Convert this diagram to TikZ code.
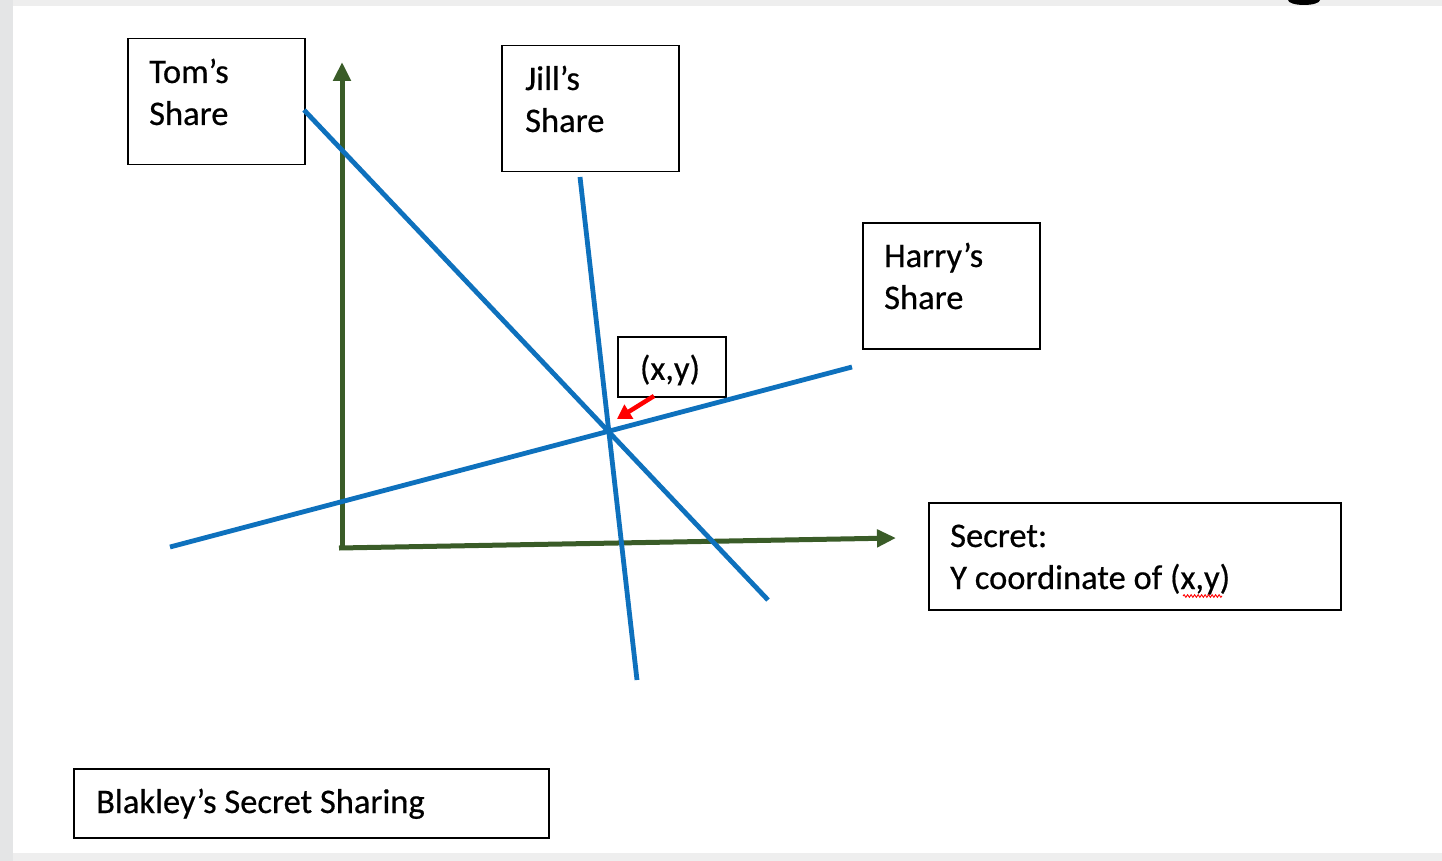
\documentclass[tikz,border=0pt]{standalone}
\usepackage{fontspec}
\setmainfont{Carlito}[FakeBold=0.5]
\usetikzlibrary{arrows.meta,decorations.pathmorphing}
\definecolor{lineblue}{RGB}{14,113,189}
\definecolor{axisgreen}{RGB}{58,92,40}
\definecolor{framegray}{RGB}{228,229,230}
\definecolor{stripgray}{RGB}{238,238,238}
\begin{document}
\begin{tikzpicture}[x=1pt,y=-1pt,
  box/.style={draw=black, line width=1.5pt, anchor=north west, inner sep=0pt},
  txt/.style={font=\fontsize{34.5}{42}\selectfont, anchor=base west, inner sep=0pt, align=left},
  share/.style={draw=lineblue, line width=4.8pt},
  axis/.style={draw=axisgreen, line width=5pt, -{Triangle[width=17pt,length=19pt]}}]
\useasboundingbox (0,0) rectangle (1442,861);
\fill[white] (0,0) rectangle (1442,861);
\fill[framegray] (0,0) rectangle (13,861);
\fill[stripgray] (13,0) rectangle (1442,6);
\fill[stripgray] (13,853) rectangle (1442,861);
\begin{scope}
\clip (0,0) rectangle (1442,861);
\fill[black] (1304,0) ellipse [x radius=16, y radius=5];
\end{scope}
% boxes
\node[box, minimum width=177pt, minimum height=126pt] (tom) at (127,38) {};
\node[box, minimum width=177pt, minimum height=126pt] (jill) at (501,45) {};
\node[box, minimum width=177pt, minimum height=126pt] (harry) at (862,222) {};
\node[box, minimum width=108pt, minimum height=60pt] (xy) at (617,336) {};
\node[box, minimum width=412pt, minimum height=107pt] (secret) at (928,502) {};
\node[box, minimum width=475pt, minimum height=69pt] (title) at (73,768) {};
% texts (base anchor = baseline of the last line)
\node[txt] (tomtxt) at (149,125) {Tom’s\\Share};
\node[txt] (jilltxt) at (525,132) {Jill’s\\Share};
\node[txt] (harrytxt) at (884,309) {Harry’s\\Share};
\node[txt] (secrettxt) at (950,589) {Secret:\\Y coordinate of (x,y)};
\node[txt] (titletxt) at (96,813) {Blakley’s Secret Sharing};
\node[font=\fontsize{34.5}{42}\selectfont, inner sep=0pt] (xytxt) at (670,370) {(x,y)};
% spelling underline
\draw[red, line width=0.9pt, decorate, decoration={snake, amplitude=1.3pt, segment length=3.5pt}] (1183,596) -- (1222,596);
% axes
\coordinate (origin) at (342,548);
\coordinate (ytip) at (342,62);
\coordinate (xtip) at (896,538);
\draw[axisgreen, line width=5pt] (342,550) -- (origin);
\draw[axis] (origin) -- (ytip);
\draw[axis] (339,548) -- (xtip);
% share lines
\coordinate (tomA) at (304,110);
\coordinate (tomB) at (768,600);
\coordinate (jillA) at (580,177);
\coordinate (jillB) at (637,680);
\coordinate (harryA) at (170,547);
\coordinate (harryB) at (852,367);
\draw[share] (tomA) -- (tomB);
\draw[share] (jillA) -- (jillB);
\draw[share] (harryA) -- (harryB);
% red arrow
\coordinate (ra) at (654,396);
\coordinate (rb) at (617,419);
\draw[red, line width=4.5pt, -{Triangle[width=16pt,length=14pt]}] (ra) -- (rb);
\end{tikzpicture}
\end{document}
